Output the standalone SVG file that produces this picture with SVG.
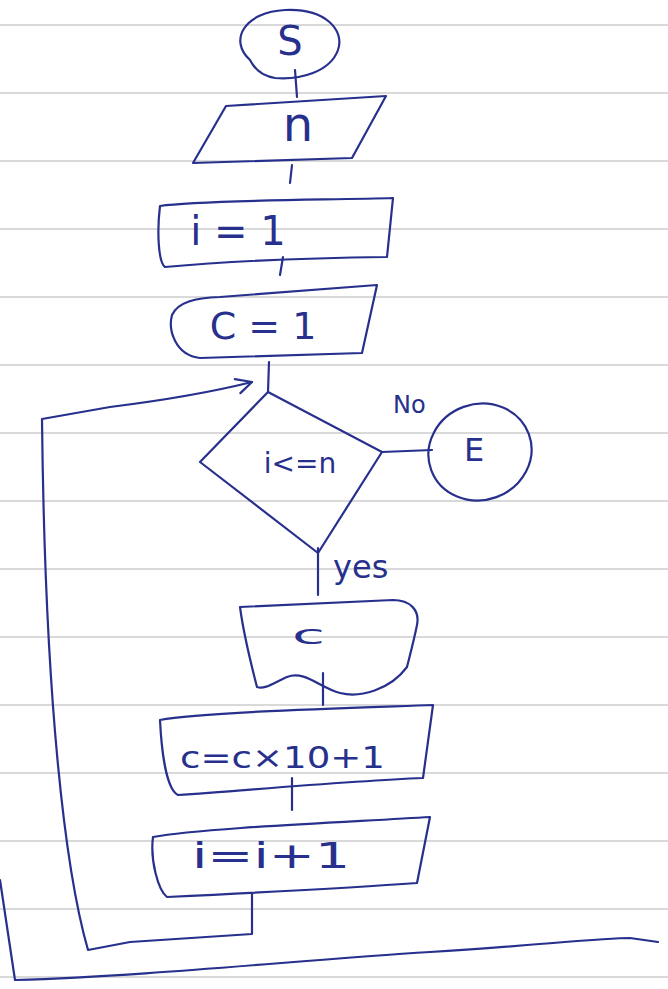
<svg xmlns="http://www.w3.org/2000/svg" width="668" height="989" viewBox="0 0 668 989">
<defs>
<style>
.rule{stroke:#d9d9d9;stroke-width:2}
.ink{fill:none;stroke:#27308c;stroke-width:2.2;stroke-linecap:round;stroke-linejoin:round}
.t{fill:#27308c;font-family:"DejaVu Sans",sans-serif;font-weight:normal}
</style>
<marker id="arr" viewBox="0 0 20 20" refX="18" refY="10" markerWidth="20" markerHeight="20" markerUnits="userSpaceOnUse" orient="auto">
<path d="M2,3 L18,10 L4,18" fill="none" stroke="#27308c" stroke-width="2.2" stroke-linecap="round" stroke-linejoin="round"/>
</marker>
</defs>
<rect width="668" height="989" fill="#ffffff"/>
<g id="paper">
<line class="rule" x1="0" y1="25" x2="668" y2="25"/>
<line class="rule" x1="0" y1="93" x2="668" y2="93"/>
<line class="rule" x1="0" y1="161" x2="668" y2="161"/>
<line class="rule" x1="0" y1="229" x2="668" y2="229"/>
<line class="rule" x1="0" y1="297" x2="668" y2="297"/>
<line class="rule" x1="0" y1="365" x2="668" y2="365"/>
<line class="rule" x1="0" y1="433" x2="668" y2="433"/>
<line class="rule" x1="0" y1="501" x2="668" y2="501"/>
<line class="rule" x1="0" y1="569" x2="668" y2="569"/>
<line class="rule" x1="0" y1="637" x2="668" y2="637"/>
<line class="rule" x1="0" y1="705" x2="668" y2="705"/>
<line class="rule" x1="0" y1="773" x2="668" y2="773"/>
<line class="rule" x1="0" y1="841" x2="668" y2="841"/>
<line class="rule" x1="0" y1="909" x2="668" y2="909"/>
<line class="rule" x1="0" y1="977" x2="668" y2="977"/>
</g>
<g id="connectors">
<path class="ink" d="M295,70 L297,97"/>
<path class="ink" d="M292,165 L290,183"/>
<path class="ink" d="M283,257 L280,275"/>
<path class="ink" d="M269,362 L268,392"/>
<path class="ink" d="M382,452 L432,450"/>
<path class="ink" d="M318,548 L318,595"/>
<path class="ink" d="M323,673 L323,705"/>
<path class="ink" d="M292,778 L292,810"/>
<path class="ink" d="M252,893 L252,934 L130,942 L88,950 C65,870 45,700 42,419 L110,407 C150,402 200,395 252,382" marker-end="url(#arr)"/>
<path class="ink" d="M0,880 L15,980 C150,976 300,960 430,952 C530,946 600,938 630,938 L658,942"/>
<text class="t" x="393" y="413" font-size="24">No</text>
<text class="t" x="333" y="578" font-size="32">yes</text>
</g>
<g id="start">
<path class="ink" d="M250,60 C228,40 245,12 285,10 C325,8 345,30 338,50 C330,72 300,80 275,78 C262,76 254,68 250,60 Z"/>
<text class="t" x="290" y="55" font-size="40" text-anchor="middle">S</text>
</g>
<g id="input-n">
<path class="ink" d="M226,106 L386,96 L352,158 L193,163 Z"/>
<text class="t" x="298" y="141" font-size="48" text-anchor="middle">n</text>
</g>
<g id="init-i">
<path class="ink" d="M160,206 C200,200 330,200 393,198 L387,257 C300,258 220,262 165,267 C158,262 157,230 160,206 Z"/>
<text class="t" x="238" y="245" font-size="40" text-anchor="middle">i = 1</text>
</g>
<g id="init-c">
<path class="ink" d="M220,297 L377,285 L362,353 L200,358 C175,355 168,330 172,315 C178,302 195,298 220,297 Z"/>
<text class="t" x="263" y="339" font-size="38" text-anchor="middle">C = 1</text>
</g>
<g id="decision">
<path class="ink" d="M268,392 L382,452 L318,553 L200,462 Z"/>
<text class="t" x="300" y="473" font-size="28" text-anchor="middle">i&lt;=n</text>
</g>
<g id="end">
<ellipse class="ink" cx="480" cy="452" rx="52" ry="48" transform="rotate(-20 480 452)"/>
<text class="t" x="474" y="461" font-size="32" text-anchor="middle">E</text>
</g>
<g id="display-c">
<path class="ink" d="M240,607 L393,600 C410,600 420,610 417,625 C414,640 410,655 407,667 C390,690 360,698 340,693 C320,688 305,670 287,677 C275,682 265,690 257,687 C250,660 243,630 240,607 Z"/>
<text class="t" x="292" y="644" font-size="26" textLength="33" lengthAdjust="spacingAndGlyphs">c</text>
</g>
<g id="update-c">
<path class="ink" d="M160,720 C200,712 350,708 433,705 L423,778 C350,781 250,790 178,795 C168,790 162,760 160,720 Z"/>
<text class="t" x="180" y="768" font-size="30" textLength="205" lengthAdjust="spacingAndGlyphs">c=c×10+1</text>
</g>
<g id="update-i">
<path class="ink" d="M153,837 C200,828 350,822 430,817 L417,883 C350,888 250,893 167,897 C158,890 150,860 153,837 Z"/>
<text class="t" x="192" y="868" font-size="36" textLength="158" lengthAdjust="spacingAndGlyphs">i=i+1</text>
</g>
</svg>
